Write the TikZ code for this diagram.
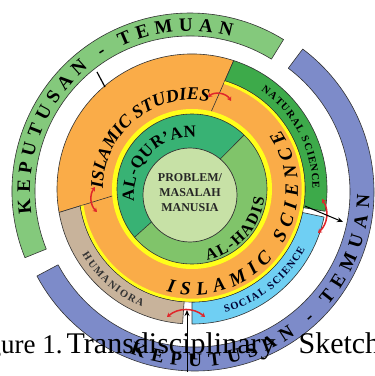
\documentclass[tikz,border=0pt]{standalone}
\usepackage{fontspec}
\setmainfont{Liberation Serif}
\usetikzlibrary{calc,decorations.text,arrows.meta}
\definecolor{kgreen}{HTML}{84C97C}
\definecolor{kblue}{HTML}{7D8BC9}
\definecolor{orng}{HTML}{FAAC48}
\definecolor{natg}{HTML}{3DAA4A}
\definecolor{socb}{HTML}{6FCFF3}
\definecolor{humt}{HTML}{C8B39B}
\definecolor{qurg}{HTML}{38B274}
\definecolor{hadg}{HTML}{80C46A}
\definecolor{inng}{HTML}{C7E1A6}
\definecolor{yel}{HTML}{FFFF1A}
\definecolor{redar}{HTML}{E0262B}
\newcommand{\annsec}[6]{\path[#1] ($(#2)+(#3:#5pt)$) arc[start angle=#3,end angle=#4,radius=#5pt] -- ($(#2)+(#4:#6pt)$) arc[start angle=#4,end angle=#3,radius=#6pt] -- cycle;}
\tikzset{
  outl/.style={draw=black!80,line width=.6pt},
  redarrow/.style={draw=redar,line width=1.5pt,{Stealth[length=4pt,width=5pt]}-{Stealth[length=4pt,width=5pt]}},
  blackarrow/.style={draw=black,line width=1pt,-{Stealth[length=6pt,width=5pt]}},
  plainline/.style={draw=black,line width=1.2pt}
}
\begin{document}
\begin{tikzpicture}[x=1pt,y=1pt,line join=round]
\useasboundingbox (0,0) rectangle (375,376);
\fill[white] (0,0) rectangle (375,376);
\coordinate (O) at (192,187);
\coordinate (Q) at (192,181);
\coordinate (I) at (190,181);
\coordinate (K1) at (190,185);
\coordinate (K2) at (195,184);

% outer KEPUTUSAN rings
\annsec{fill=kgreen,outl}{K1}{58.3}{202}{155}{178}
\annsec{fill=kblue,outl}{K2}{208}{413}{155}{179}

% orange base and Islamic Studies sector
\fill[orng] (O) circle[radius=113pt];
\path[fill=orng,outl] ($(O)+(76:80pt)$) -- ($(O)+(72:135pt)$) arc[start angle=72,end angle=190,radius=135pt] -- ($(O)+(185:80pt)$);

% outer sectors
\path[fill=natg,outl] ($(O)+(-9.5:113pt)$) -- ($(O)+(-9.5:135pt)$) arc[start angle=-9.5,end angle=72,radius=135pt] -- ($(O)+(73.1:113pt)$) arc[start angle=73.1,end angle=-9.5,radius=113pt] -- cycle;
\path[fill=humt,outl] ($(O)+(188.6:113pt)$) -- ($(O)+(190:135pt)$) arc[start angle=190,end angle=266,radius=135pt] -- ($(O)+(266:113pt)$) arc[start angle=266,end angle=188.6,radius=113pt] -- cycle;
\annsec{fill=socb,outl}{O}{270}{348}{113}{135}

% yellow edge of Islamic Science
\draw[outl] ($(O)+(73.1:113pt)$) arc[start angle=73.1,end angle=-171.4,radius=113pt];
\draw[yel,line width=3pt] ($(O)+(73.1:111.2pt)$) arc[start angle=73.1,end angle=-171.4,radius=111.2pt];

% yellow ring and green ring
\fill[yel] (O) circle[radius=80pt];
\path[fill=qurg] (O) -- ($(O)+(46:75pt)$) arc[start angle=46,end angle=220,radius=75pt] -- cycle;
\path[fill=hadg] (O) -- ($(O)+(220:75pt)$) arc[start angle=220,end angle=406,radius=75pt] -- cycle;
\draw[outl] (O) circle[radius=75pt];
\draw[fill=inng,outl,line width=.7pt] (I) circle[radius=47pt];
\draw[outl] ($(O)+(46:75pt)$) -- ($(I)+(50:47pt)$);
\draw[outl] ($(O)+(220:75pt)$) -- ($(I)+(215:47pt)$);

% ring texts
\path[decorate,decoration={text along path,text align={fit to path},text={|\fontsize{19}{19}\selectfont\bfseries|KEPUTUSAN - TEMUAN}}]
  ($(K1)+(188:160pt)$) arc[start angle=188,end angle=75,radius=160pt];
\path[decorate,decoration={text along path,text align={fit to path},text={|\fontsize{19}{19}\selectfont\bfseries|KEPUTUSAN - TEMUAN}}]
  ($(K2)+(248:174.5pt)$) arc[start angle=248,end angle=359,radius=174.5pt];
\path[decorate,decoration={text along path,text align={fit to path},text={|\fontsize{18}{18}\selectfont\bfseries\itshape|ISLAMIC STUDIES}}]
  ($(O)+(180:89pt)$) arc[start angle=180,end angle=79,radius=89pt];
\path[decorate,decoration={text along path,text align={fit to path},text={|\fontsize{19}{19}\selectfont\bfseries\itshape|ISLAMIC SCIENCE}}]
  ($(O)+(256:106pt)$) arc[start angle=256,end angle=394,radius=106pt];
\path[decorate,decoration={text along path,text align={fit to path},text={|\fontsize{17}{17}\selectfont\bfseries|AL-QUR'AN}}]
  ($(Q)+(186:58pt)$) arc[start angle=186,end angle=86,radius=58pt];
\path[decorate,decoration={text along path,text align={fit to path},text={|\fontsize{16}{16}\selectfont\bfseries|AL-HADIS}}]
  ($(O)+(282:73pt)$) arc[start angle=282,end angle=353,radius=73pt];
\path[decorate,decoration={text along path,text align={fit to path},text={|\fontsize{10.5}{10.5}\selectfont\bfseries|NATURAL SCIENCE}}]
  ($(O)+(55:120.5pt)$) arc[start angle=55,end angle=0,radius=120.5pt];
\path[decorate,decoration={text along path,text align={fit to path},text={|\fontsize{10.5}{10.5}\selectfont\bfseries\color{black!80!blue}|SOCIAL SCIENCE}}]
  ($(O)+(285:128pt)$) arc[start angle=285,end angle=332,radius=128pt];
\path[decorate,decoration={text along path,text align={fit to path},text={|\fontsize{10.5}{10.5}\selectfont\bfseries\color{black!80}|HUMANIORA}}]
  ($(O)+(211:128pt)$) arc[start angle=211,end angle=247,radius=128pt];

% centre text
\node[font=\bfseries\fontsize{12}{15}\selectfont,align=center,text=black!85] (prob) at (190,183) {PROBLEM/\\MASALAH\\MANUSIA};

% red interaction arrows
\coordinate (ra1) at (208,279); \coordinate (ra2) at (231,275);
\draw[redarrow] (ra1) to[bend left=50] (ra2);
\coordinate (rb1) at (95,189); \coordinate (rb2) at (97,164);
\draw[redarrow] (rb1) to[bend right=40] (rb2);
\coordinate (rc1) at (322,177); \coordinate (rc2) at (318,143);
\draw[redarrow] (rc1) to[bend left=40] (rc2);
\coordinate (rd1) at (167,59); \coordinate (rd2) at (205,59);
\draw[redarrow] (rd1) to[bend left=40] (rd2);

% black connectors
\coordinate (ka1) at (97,304); \coordinate (ka2) at (105,289);
\draw[plainline] (ka1) -- (ka2);
\coordinate (kb1) at (305,170); \coordinate (kb2) at (343,154);
\draw[blackarrow] (kb1) -- (kb2);
\coordinate (kc1) at (187,4); \coordinate (kc2) at (187,66);
\draw[blackarrow] (kc1) -- (kc2);

% caption
\node[anchor=base west,font=\fontsize{30}{30}\selectfont,inner sep=0pt] (cap) at (-35,23) {{\fontsize{27}{30}\selectfont Figure 1.}\hspace{4pt}Transdisciplinary\hspace{23pt}Sketch};
\end{tikzpicture}
\end{document}
